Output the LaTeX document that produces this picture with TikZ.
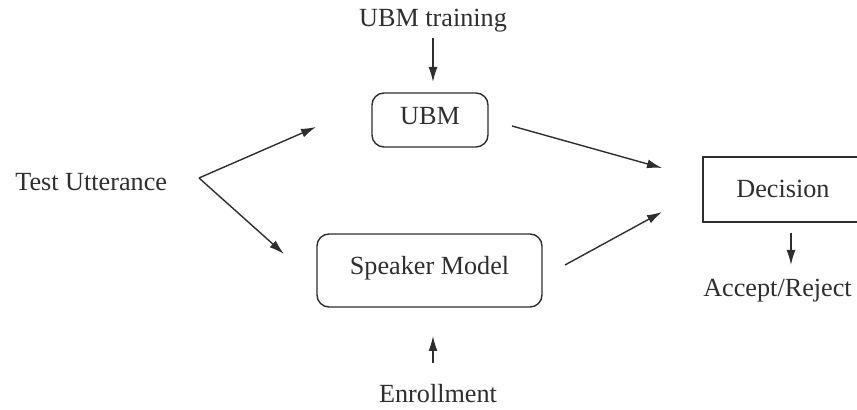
\documentclass[tikz,border=0pt]{standalone}
\usepackage{fontspec}
\setmainfont{Liberation Serif}
\usetikzlibrary{arrows.meta}
\definecolor{ink}{HTML}{2E2E2E}
\begin{document}
\begin{tikzpicture}[x=0.5pt,y=-0.5pt,
  txt/.style={font=\fontsize{13.1}{15.5}\selectfont, text=ink},
  lbl/.style={txt, inner sep=0pt},
  roundbox/.style={txt, draw=ink, line width=0.7pt, rounded corners=6pt,
    text height=0.6em, text depth=0.15em},
  squarebox/.style={txt, draw=ink, line width=0.7pt,
    text height=0.9em, text depth=0.05em},
  arr/.style={draw=ink, line width=0.7pt, -{Latex[length=7.5pt,width=4.5pt]}}]
\clip (0,0) rectangle (857,410);

% boxes
\node[roundbox, minimum width=58pt, minimum height=27pt] (ubm) at (430,120) {UBM};
\node[roundbox, minimum width=112.5pt, minimum height=36.5pt] (spk) at (429.5,270.5) {Speaker Model};
\node[squarebox, minimum width=80pt, minimum height=32.5pt] (dec) at (783,189.5) {Decision};

% free labels
\node[lbl, anchor=base] (train) at (433,27) {UBM training};
\node[lbl, anchor=base west] (test) at (15,191) {Test Utterance};
\node[lbl, anchor=base] (acc) at (777.5,297) {Accept/Reject};
\node[lbl, anchor=base] (enr) at (438,403) {Enrollment};

% connector ends
\coordinate (trainS) at (433,38);
\coordinate (ubmN) at (433,82);
\coordinate (split) at (199,178);
\coordinate (ubmW) at (316,127);
\coordinate (spkW) at (284,254);
\coordinate (ubmE) at (512,126);
\coordinate (decWa) at (662,168);
\coordinate (spkE) at (565,265);
\coordinate (decWb) at (662,212);
\coordinate (decS) at (791,233);
\coordinate (accN) at (791,265);
\coordinate (enrN) at (433,363);
\coordinate (spkS) at (433,336);

% connectors
\draw[arr] (trainS) -- (ubmN);
\draw[arr] (split) -- (ubmW);
\draw[arr] (split) -- (spkW);
\draw[arr] (ubmE) -- (decWa);
\draw[arr] (spkE) -- (decWb);
\draw[arr] (decS) -- (accN);
\draw[arr] (enrN) -- (spkS);
\end{tikzpicture}
\end{document}
